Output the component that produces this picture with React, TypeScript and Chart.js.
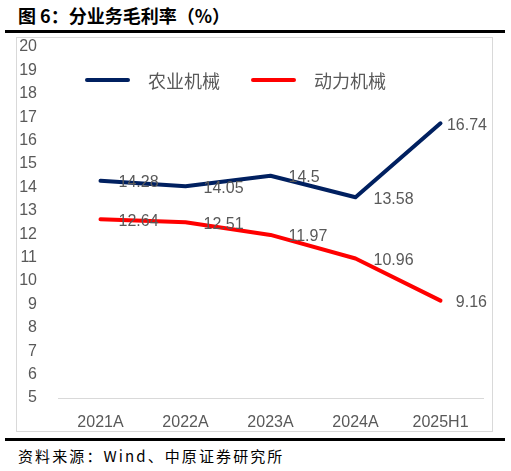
import { useEffect, useRef } from "react";
import Chart from "chart.js/auto";

const categories = ["2021A", "2022A", "2023A", "2024A", "2025H1"];
const seriesNames = ["农业机械", "动力机械"];
const agriValues = [14.28, 14.05, 14.5, 13.58, 16.74];
const powerValues = [12.64, 12.51, 11.97, 10.96, 9.16];
const seriesColors = ["#002060", "#FF0000"];
const yTicks = [5, 6, 7, 8, 9, 10, 11, 12, 13, 14, 15, 16, 17, 18, 19, 20];

const GRAY = "#595959";
const NUM_FONT = "16px 'Liberation Sans', Arial, sans-serif";

// legend drawn inside the plot, like the Excel original
const insideLegend = {
  id: "insideLegend",
  afterDraw(chart: Chart) {
    const { ctx } = chart;
    const y = chart.chartArea.top + 33;
    const items = [
      { x: 70, textX: 131 },
      { x: 236, textX: 297 },
    ];
    ctx.save();
    items.forEach((it, i) => {
      ctx.strokeStyle = seriesColors[i];
      ctx.lineWidth = 4;
      ctx.lineCap = "round";
      ctx.beginPath();
      ctx.moveTo(it.x, y);
      ctx.lineTo(it.x + 41, y);
      ctx.stroke();
      ctx.fillStyle = GRAY;
      ctx.font = "18px 'Noto Sans CJK SC', sans-serif";
      ctx.textAlign = "left";
      ctx.textBaseline = "middle";
      ctx.fillText(seriesNames[i], it.textX, y + 1);
    });
    ctx.restore();
  },
};

const valueLabels = {
  id: "valueLabels",
  afterDatasetsDraw(chart: Chart) {
    const { ctx } = chart;
    ctx.save();
    ctx.font = NUM_FONT;
    ctx.fillStyle = GRAY;
    ctx.textAlign = "left";
    ctx.textBaseline = "middle";
    chart.data.datasets.forEach((ds, di) => {
      const meta = chart.getDatasetMeta(di);
      meta.data.forEach((pt, i) => {
        const text = String(ds.data[i]);
        const w = ctx.measureText(text).width;
        let x = pt.x + 18;
        if (x + w > chart.width - 5) x = chart.width - 5 - w;
        ctx.fillText(text, x, pt.y + 2);
      });
    });
    ctx.restore();
  },
};

export default function App() {
  const chartRef = useRef<HTMLCanvasElement>(null);
  const chartInstance = useRef<Chart | null>(null);

  useEffect(() => {
    if (!chartRef.current) return;
    if (chartInstance.current) chartInstance.current.destroy();

    const datasets = [agriValues, powerValues].map((vals, i) => ({
      label: seriesNames[i],
      data: vals,
      borderColor: seriesColors[i],
      backgroundColor: seriesColors[i],
      borderWidth: 4,
      borderCapStyle: "round" as const,
      borderJoinStyle: "round" as const,
      pointRadius: 0,
      tension: 0,
    }));

    chartInstance.current = new Chart(chartRef.current, {
      type: "line",
      data: { labels: categories, datasets },
      options: {
        responsive: false,
        maintainAspectRatio: false,
        animation: false,
        layout: { padding: { top: 9, right: 9, left: 0, bottom: 0 } },
        plugins: {
          legend: { display: false },
          tooltip: { enabled: false },
        },
        scales: {
          x: {
            offset: true,
            grid: { display: false, drawTicks: false },
            border: { display: true, color: "#d9d9d9", width: 1 },
            ticks: { color: GRAY, font: { family: "'Liberation Sans', Arial, sans-serif", size: 16 }, padding: 15 },
            afterFit: (scale: any) => {
              scale.height = 33;
              scale.paddingLeft = 0;
              scale.paddingRight = 0;
            },
          },
          y: {
            min: 5,
            max: 20,
            afterBuildTicks: (scale: any) => {
              scale.ticks = yTicks.map((v) => ({ value: v }));
            },
            grid: { display: false, drawTicks: false },
            border: { display: false },
            ticks: {
              color: GRAY,
              font: { family: "'Liberation Sans', Arial, sans-serif", size: 16, lineHeight: 1 },
              padding: 21,
            },
            afterFit: (scale: any) => {
              scale.width = 41;
              scale.paddingTop = 0;
              scale.paddingBottom = 0;
            },
          },
        },
      },
      plugins: [insideLegend, valueLabels],
    });

    return () => {
      if (chartInstance.current) chartInstance.current.destroy();
      chartInstance.current = null;
    };
  }, []);

  return (
    <div style={{ position: "absolute", left: 0, top: 0, width: 511, height: 471, background: "#fff" }}>
      <div
        style={{
          position: "absolute",
          left: 18,
          top: 4,
          font: "bold 18px 'Noto Sans CJK SC', sans-serif",
          lineHeight: "22px",
          color: "#000",
          whiteSpace: "nowrap",
        }}
      >
        图 6：分业务毛利率（%）
      </div>
      <div style={{ position: "absolute", left: 5, top: 30, width: 500, height: 3, background: "#000" }} />
      <div
        style={{
          position: "absolute",
          left: 16,
          top: 37,
          width: 477,
          height: 395,
          border: "1px solid #d9d9d9",
          boxSizing: "border-box",
        }}
      >
        <canvas ref={chartRef} width={475} height={393} style={{ position: "absolute", left: 0, top: 0, width: 475, height: 393 }} />
      </div>
      <div style={{ position: "absolute", left: 5, top: 438, width: 500, height: 3, background: "#000" }} />
      <div
        style={{
          position: "absolute",
          left: 18,
          top: 447,
          font: "15px 'Noto Sans CJK SC', sans-serif",
          lineHeight: "18px",
          letterSpacing: "2.1px",
          color: "#000",
          whiteSpace: "nowrap",
        }}
      >
        资料来源：Wind、中原证券研究所
      </div>
    </div>
  );
}
